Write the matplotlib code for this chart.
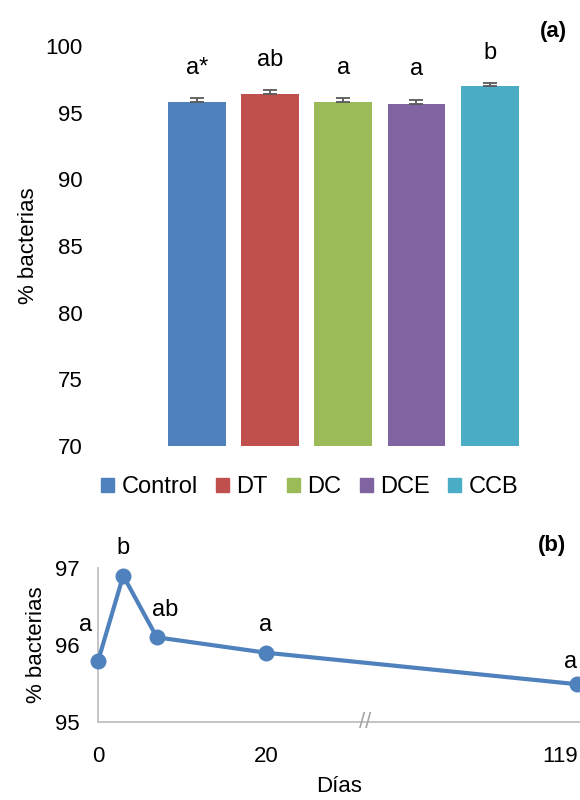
import matplotlib.pyplot as plt
from matplotlib.patches import Patch

plt.rcParams['font.family'] = ['Liberation Sans', 'DejaVu Sans']

# (a) bacteria % by treatment
grupos = ["Control", "DT", "DC", "DCE", "CCB"]
pct_grupo = [95.8, 96.4, 95.8, 95.65, 97.0]
err_grupo = [0.3, 0.3, 0.3, 0.33, 0.2]
letras_grupo = ["a*", "ab", "a", "a", "b"]
colores = ["#4F81BD", "#C0504D", "#9BBB59", "#8064A2", "#4BACC6"]

# (b) bacteria % over time
dias = [0, 3, 7, 20, 119]
pct_dias = [95.79, 96.90, 96.10, 95.90, 95.49]
letras_dias = ["a", "b", "ab", "a", "a"]
dias_ticks = [0, 20, 119]

azul = "#4F81BD"
gris = "#BFBFBF"
fs = 16


def x_roto(d):
    # broken axis: 0-20 linear, 119 drawn at the right end
    return d if d <= 20 else 57.1


fig = plt.figure(figsize=(5.8, 8), dpi=100)

# ---- panel (a)
ax1 = fig.add_axes([0.169, 0.4425, 0.77, 0.5])
xs = list(range(len(grupos)))
ax1.bar(xs, [p - 70 for p in pct_grupo], bottom=70, width=0.79, color=colores,
        yerr=[[0] * len(err_grupo), err_grupo],
        error_kw=dict(ecolor="#595959", capsize=5, elinewidth=1.3, capthick=1.3))
for x, p, e, l in zip(xs, pct_grupo, err_grupo, letras_grupo):
    ax1.annotate(l, (x, p + e), xytext=(0, 14), textcoords="offset points",
                 ha="center", va="bottom", fontsize=17)
ax1.set_ylim(70, 100)
ax1.set_yticks(range(70, 101, 5))
ax1.set_xlim(-1.35, 4.75)
ax1.set_xticks([])
for s in ax1.spines.values():
    s.set_visible(False)
ax1.tick_params(axis="y", length=0, pad=11, labelsize=fs)
ax1.set_ylabel("% bacterias", fontsize=fs, labelpad=5)
fig.text(0.955, 0.96, "(a)", fontsize=fs, fontweight="bold", ha="center", va="center")

handles = [Patch(color=c, label=g) for c, g in zip(colores, grupos)]
fig.legend(handles=handles, loc="center", bbox_to_anchor=(0.534, 0.391), ncol=5,
           frameon=False, fontsize=17, handlelength=0.55, handleheight=0.55,
           handletextpad=0.3, columnspacing=0.8)

# ---- panel (b)
ax2 = fig.add_axes([0.169, 0.0975, 0.831, 0.1925])
px = [x_roto(d) for d in dias]
ax2.plot(px, pct_dias, color=azul, lw=3, marker="o", ms=10.5, clip_on=False, zorder=3)
offs = [(-9, 18), (0, 12), (6, 12), (0, 12), (0, 8)]
for i, (x, p, l, o) in enumerate(zip(px, pct_dias, letras_dias, offs)):
    ha = "right" if i == len(px) - 1 else "center"
    ax2.annotate(l, (x, p), xytext=o, textcoords="offset points",
                 ha=ha, va="bottom", fontsize=17)
ax2.set_xlim(0, 57.4)
ax2.set_ylim(95, 97)
ax2.set_yticks([95, 96, 97])
ax2.set_xticks([x_roto(d) for d in dias_ticks])
ax2.set_xticklabels([str(d) for d in dias_ticks])
ax2.get_xticklabels()[-1].set_horizontalalignment("right")
for s in ["top", "right"]:
    ax2.spines[s].set_visible(False)
for s in ["left", "bottom"]:
    ax2.spines[s].set_color(gris)
    ax2.spines[s].set_linewidth(1.3)
ax2.tick_params(length=0, labelsize=fs)
ax2.tick_params(axis="y", pad=13)
ax2.tick_params(axis="x", pad=17)
ax2.set_ylabel("% bacterias", fontsize=fs, labelpad=6)
ax2.set_xlabel("Días", fontsize=fs, labelpad=7)
ax2.text(31.8, 95, "//", color="#A6A6A6", fontsize=16, ha="center", va="center")
fig.text(0.952, 0.318, "(b)", fontsize=fs, fontweight="bold", ha="center", va="center")

fig.savefig("out.png", dpi=100)
